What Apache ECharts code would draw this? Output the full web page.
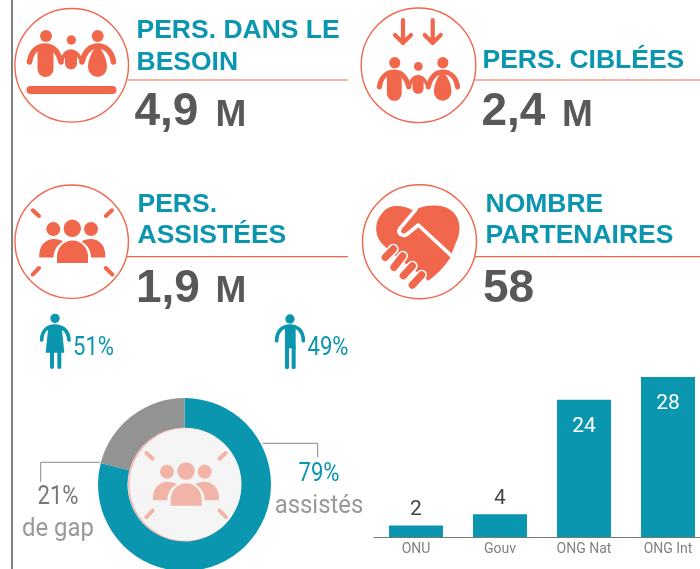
<!DOCTYPE html>
<html><head><meta charset="utf-8">
<style>html,body{margin:0;padding:0;background:#fff}#c{width:700px;height:569px}</style>
<script src="https://cdn.jsdelivr.net/npm/echarts@6/dist/echarts.min.js"></script></head>
<body><div id="c"></div>
<script>
const categories = ['ONU', 'Gouv', 'ONG Nat', 'ONG Int'];
const partnerValues = [2, 4, 24, 28];
const coverageNames = ['assistés', 'de gap'];
const coverageValues = [79, 21];
const ORANGE = '#f0674c', TEAL = '#0b96b0', DARK = '#585858', PINK = '#f3b4a8';
const HEAD = 'bold 26.5px "Liberation Sans"';
const BIG = 'bold 46px "Liberation Sans"';
const UNIT = 'bold 37px "Liberation Sans"';
const LIGHT = '400 26px Roboto';
const chart = echarts.init(document.getElementById('c'), null, {renderer:'canvas'});
let pid = 0;
function P(d, style){
  const name = 'p' + (pid++);
  echarts.graphic.registerShape(name, echarts.graphic.extendPath(d, {}));
  return {type:name, style:style};
}
const F = (d,c)=>P(d,{fill:c});
const S = (d,c,w)=>P(d,{fill:'none',stroke:c,lineWidth:w,lineCap:'round',lineJoin:'round'});
const dot=(x,y,r,c)=>({type:'circle',shape:{cx:x,cy:y,r:r},style:{fill:c}});
const ring=(x,y,r,fill,sw)=>({type:'circle',shape:{cx:x,cy:y,r:r},style:{fill:fill||'#fff',stroke:ORANGE,lineWidth:sw||1.4}});
const hline=(x1,x2,y)=>({type:'line',shape:{x1:x1,y1:y,x2:x2,y2:y},style:{stroke:ORANGE,lineWidth:1.2}});
const txt=(t,x,y,font,fill,align,sx)=>({type:'text',x:x,y:y,scaleX:sx||1,style:{text:t,font:font,fill:fill,textAlign:align||'left',textVerticalAlign:'middle'}});
function family(){
  const c=ORANGE;
  return [dot(46,36,6,c),dot(71.3,40,4.7,c),dot(97.7,36,6,c),
    {type:'rect',shape:{x:37.5,y:45,width:16,height:32,r:8},style:{fill:c}},
    F('M97.5 46 C92 50 88 60 88 67 A9.5 10 0 0 0 107 67 C107 60 103 50 97.5 46Z',c),
    S('M29.5 62 C31 52 37 46 45 46 C52 46 58 50 61 62',c,5.5),
    S('M113.5 62 C112 52 106 46 98 46 C91 46 85 50 82 62',c,5.5),
    {type:'rect',shape:{x:65,y:50,width:12,height:19.5,r:6},style:{fill:c}},
    S('M62 60 C64 53 67 51 71 51 C75 51 78 53 81 60',c,3.5)];
}
function crowd(c){
  return [dot(72.3,228.3,8.7,c),dot(53.3,229,7,c),dot(91,229,7,c),
    F('M57 263 V257 A15.5 16.5 0 0 1 88 257 V263Z',c),
    F('M39.3 257.5 V255 C39.3 245 46 239 54 239 C58 239 61 240 63 241.5 C57 245 54 250 53.5 257.5Z',c),
    F('M105.3 257.5 V255 C105.3 245 98.6 239 90.6 239 C86.6 239 83.6 240 81.6 241.5 C87.6 245 90.6 250 91.1 257.5Z',c),
    S('M32.7 210.3 L39 216',c,4),S('M105.8 216 L112 210.3',c,4),
    S('M32.7 274.5 L39 268',c,4),S('M105.8 268 L112.3 274.5',c,4)];
}
const W='#ffffff';
const graphicEls = [
  {type:'rect',shape:{x:11,y:0,width:2,height:569},style:{fill:'#808080'}},
  hline(128,348,80), hline(474,700,80), hline(127,348,256.7), hline(474,700,256.7),
  ring(71.7,65.3,56.8), ring(418.5,65.3,57.3), ring(71.7,241.7,56.7), ring(419.5,241.7,57),
  {type:'group',children:family()},
  {type:'rect',shape:{x:26.5,y:86,width:90,height:8,r:4},style:{fill:ORANGE}},
  {type:'group',x:418.3-71.3*0.93,y:62.7-36*0.93,scaleX:0.93,scaleY:0.93,children:family()},
  S('M403 20 V43 M395 35 L403 43 L411 35',ORANGE,4.2),
  S('M432.7 20 V43 M424.7 35 L432.7 43 L440.7 35',ORANGE,4.2),
  {type:'group',children:crowd(ORANGE)},
  {type:'group',x:350,y:180,scaleX:1/3,scaleY:1/3,children:[
    F('M190 92 C165 75 120 70 100 95 C75 120 70 160 95 190 L120 215 L235 302 L250 290 L270 272 L285 255 L300 235 L303 225 L325 170 C340 120 310 80 265 77 C235 75 210 80 190 92Z',ORANGE),
    S('M198 88 L150 145 Q143 155 152 163 Q162 170 172 162 L205 135 L303 226',W,11),
    S('M130 207 L106 232',W,32),S('M158 228 L132 262',W,32),S('M187 258 L160 287',W,32),S('M215 285 L187 315',W,32),
    S('M130 207 L106 232',ORANGE,22),S('M158 228 L132 262',ORANGE,22),S('M187 258 L160 287',ORANGE,22),S('M215 285 L187 315',ORANGE,22)
  ]},
  {type:'group',x:0,y:180,scaleX:1/3,scaleY:1/3,children:[
    dot(165,415,14,TEAL),
    S('M125 480 C125 450 145 438 165 438 C185 438 205 450 207 480',TEAL,11),
    F('M145 440 L185 440 L193 518 L137 518Z',TEAL),
    S('M156 515 V561',TEAL,12),S('M178 515 V561',TEAL,12),
    dot(870,417,14,TEAL),
    S('M830 482 C830 450 850 438 870 438 C890 438 910 450 910 482',TEAL,11),
    {type:'rect',shape:{x:855,y:440,width:32,height:65},style:{fill:TEAL}},
    S('M861 500 V562',TEAL,12),S('M881 500 V562',TEAL,12)
  ]},
  txt('PERS. DANS LE',136.5,31,HEAD,TEAL), txt('BESOIN',136.5,63,HEAD,TEAL),
  txt('PERS. CIBLÉES',482.5,60.5,HEAD,TEAL),
  txt('PERS.',137.5,204.5,HEAD,TEAL), txt('ASSISTÉES',137.5,236,HEAD,TEAL),
  txt('NOMBRE',485.5,204.5,HEAD,TEAL), txt('PARTENAIRES',485.5,236,HEAD,TEAL),
  txt('4,9',134.5,112.5,BIG,DARK), txt('M',215.5,115.5,UNIT,DARK),
  txt('2,4',481.5,112.5,BIG,DARK), txt('M',562,115.5,UNIT,DARK),
  txt('1,9',136,289.5,BIG,DARK), txt('M',215.5,292,UNIT,DARK),
  txt('58',483,289.5,BIG,DARK),
  txt('51%',73,348.5,LIGHT,TEAL,'left',0.85), txt('49%',307.5,348.5,LIGHT,TEAL,'left',0.85),
  {type:'circle',shape:{cx:185.8,cy:484.5,r:57},style:{fill:'#f5f5f5',stroke:PINK,lineWidth:1.5}},
  {type:'group',x:113.7,y:242.7,children:crowd(PINK)},
  {type:'polyline',shape:{points:[[262.7,443.3],[317.7,443.3],[317.7,457.3]]},style:{fill:'none',stroke:'#888',lineWidth:1}},
  {type:'polyline',shape:{points:[[100,462.3],[40.7,462.3],[40.7,481.7]]},style:{fill:'none',stroke:'#888',lineWidth:1}},
  txt(coverageValues[0]+'%',319,474,LIGHT,TEAL,'center',0.85),
  txt(coverageNames[0],319,506,LIGHT,'#999','center',0.92),
  txt(coverageValues[1]+'%',58,497,LIGHT,'#777','center',0.85),
  txt(coverageNames[1],58,529,LIGHT,'#999','center',0.92)
];
chart.setOption({
  animation:false,
  grid:{left:374,top:377,width:336,height:160,containLabel:false,outerBoundsMode:'none'},
  xAxis:{type:'category',data:categories,
    axisLine:{lineStyle:{color:'#777',width:1}},axisTick:{show:false},
    axisLabel:{interval:0,color:'#808080',fontSize:14,fontFamily:'"Liberation Sans Narrow", Roboto',margin:5}},
  yAxis:{type:'value',min:0,max:28,show:false,splitLine:{show:false}},
  series:[
    {type:'bar',data:partnerValues.map(v=>({value:v,label:v>=10
        ?{position:'insideTop',distance:16,color:'#fff'}
        :{position:'top',distance:5,color:'#444'}})),
      barWidth:54,itemStyle:{color:'#0b96b0'},silent:true,
      label:{show:true,fontSize:21,fontFamily:'"Liberation Sans Narrow", Roboto'}},
    {type:'pie',center:[184.5,484.5],radius:[57,86.5],startAngle:90,silent:true,
      label:{show:false},labelLine:{show:false},
      data:[{name:coverageNames[0],value:coverageValues[0],itemStyle:{color:'#0b96b0'}},
            {name:coverageNames[1],value:coverageValues[1],itemStyle:{color:'#939393'}}]}
  ],
  graphic:{elements:graphicEls}
});
</script></body></html>
